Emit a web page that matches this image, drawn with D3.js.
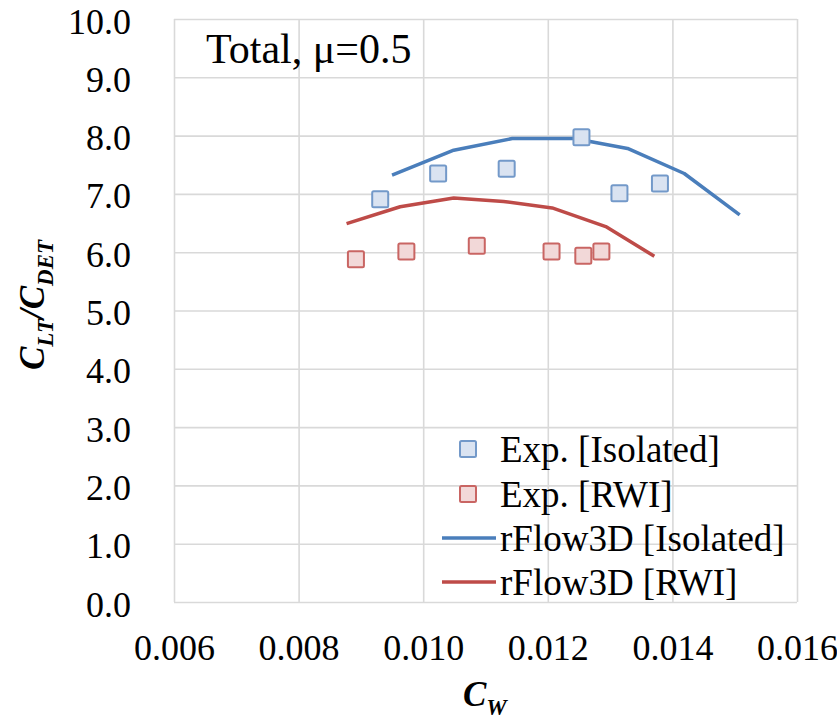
<!DOCTYPE html>
<html>
<head>
<meta charset="utf-8">
<script src="https://cdn.jsdelivr.net/npm/d3@7"></script>
<style>
  html, body { margin: 0; padding: 0; background: #ffffff; }
  svg { display: block; }
  text { font-family: "Liberation Serif", "Times New Roman", serif; fill: #000; }
</style>
</head>
<body>
<svg id="chart" width="837" height="722"></svg>
<script>
// ---- data ----
const expIsoCw  = [0.00931, 0.01024, 0.01134, 0.01254, 0.01315, 0.01380];
const expIsoVal = [6.91, 7.35, 7.43, 7.97, 7.01, 7.18];
const expRwiCw  = [0.00892, 0.00973, 0.01086, 0.01206, 0.01257, 0.01286];
const expRwiVal = [5.88, 6.01, 6.11, 6.01, 5.94, 6.01];
const cfdIsoCw  = [0.00950, 0.01049, 0.01143, 0.01242, 0.01328, 0.01419, 0.01508];
const cfdIsoVal = [7.32, 7.75, 7.95, 7.95, 7.78, 7.35, 6.64];
const cfdRwiCw  = [0.00877, 0.00963, 0.01049, 0.01129, 0.01207, 0.01293, 0.01371];
const cfdRwiVal = [6.49, 6.78, 6.93, 6.87, 6.76, 6.44, 5.93];
const xTicks = [0.006, 0.008, 0.010, 0.012, 0.014, 0.016];
const yTicks = [0, 1, 2, 3, 4, 5, 6, 7, 8, 9, 10];
const legendLabels = ["Exp. [Isolated]", "Exp. [RWI]", "rFlow3D [Isolated]", "rFlow3D [RWI]"];
const titleText = "Total, \u03bc=0.5";

// ---- layout ----
const FONT = "'Liberation Serif', 'Times New Roman', serif";
const svg = d3.select("#chart");
const L = 174, R = 797, T = 19, B = 602;
const x = d3.scaleLinear().domain([0.006, 0.016]).range([L, R]);
const y = d3.scaleLinear().domain([0, 10]).range([B, T]);

const gridColor = "#d9d9d9";
const blueLine = "#4a7ebb", redLine = "#be4b48";
const blueFill = "#dae3f1", blueStroke = "#7399c9";
const redFill = "#f2d8d8", redStroke = "#c96563";

// gridlines via axes
const gx = svg.append("g").attr("transform", `translate(0,${B})`)
  .call(d3.axisBottom(x).tickValues(xTicks).tickSize(-(B - T)).tickFormat(d3.format(".3f")))
  .attr("font-family", FONT).attr("font-size", 36);
gx.select(".domain").remove();
gx.selectAll("line").attr("stroke", gridColor).attr("stroke-width", 1.6);
gx.selectAll("text").attr("y", 58).attr("dy", 0).attr("fill", "#000");

const gy = svg.append("g").attr("transform", `translate(${L},0)`)
  .call(d3.axisLeft(y).tickValues(yTicks).tickSize(-(R - L)).tickFormat(d3.format(".1f")))
  .attr("font-family", FONT).attr("font-size", 36);
gy.select(".domain").remove();
gy.selectAll("line").attr("stroke", gridColor).attr("stroke-width", 1.6);
gy.selectAll("text").attr("x", -43).attr("dy", 14).attr("fill", "#000");

// lines
const line = d3.line().x(d => x(d[0])).y(d => y(d[1]));
svg.append("path").datum(d3.zip(cfdIsoCw, cfdIsoVal)).attr("d", line)
  .attr("fill", "none").attr("stroke", blueLine).attr("stroke-width", 3.5).attr("stroke-linejoin", "round");
svg.append("path").datum(d3.zip(cfdRwiCw, cfdRwiVal)).attr("d", line)
  .attr("fill", "none").attr("stroke", redLine).attr("stroke-width", 3.5).attr("stroke-linejoin", "round");

// markers
const ms = 16;
function squares(xs, ys, fill, stroke) {
  svg.append("g").selectAll("rect").data(d3.zip(xs, ys)).join("rect")
    .attr("x", d => x(d[0]) - ms / 2).attr("y", d => y(d[1]) - ms / 2)
    .attr("width", ms).attr("height", ms).attr("rx", 1.5)
    .attr("fill", fill).attr("stroke", stroke).attr("stroke-width", 2);
}
squares(expIsoCw, expIsoVal, blueFill, blueStroke);
squares(expRwiCw, expRwiVal, redFill, redStroke);

// title
svg.append("text").attr("x", 206).attr("y", 63).attr("font-size", 42).text(titleText);

// legend
const lg = svg.append("g");
const lgY = [449, 494, 538, 582];
const lgTextX = 500;
lg.append("rect").attr("x", 468 - 8).attr("y", lgY[0] - 8).attr("width", 16).attr("height", 16).attr("rx", 1.5)
  .attr("fill", blueFill).attr("stroke", blueStroke).attr("stroke-width", 2);
lg.append("rect").attr("x", 468 - 8).attr("y", lgY[1] - 8).attr("width", 16).attr("height", 16).attr("rx", 1.5)
  .attr("fill", redFill).attr("stroke", redStroke).attr("stroke-width", 2);
lg.append("line").attr("x1", 442).attr("x2", 496).attr("y1", lgY[2]).attr("y2", lgY[2])
  .attr("stroke", blueLine).attr("stroke-width", 3.5);
lg.append("line").attr("x1", 442).attr("x2", 496).attr("y1", lgY[3]).attr("y2", lgY[3])
  .attr("stroke", redLine).attr("stroke-width", 3.5);
legendLabels.forEach((t, i) => {
  lg.append("text").attr("x", lgTextX).attr("y", lgY[i] + 13).attr("font-size", 37).text(t);
});

// axis titles
const xt = svg.append("text").attr("x", 463).attr("y", 706)
  .attr("font-size", 35).attr("font-weight", "bold").attr("font-style", "italic");
xt.append("tspan").text("C");
xt.append("tspan").attr("font-size", 23).attr("dy", 9).text("W");

const yt = svg.append("text")
  .attr("transform", "translate(44,305) rotate(-90)")
  .attr("text-anchor", "middle")
  .attr("font-size", 35).attr("font-weight", "bold").attr("font-style", "italic");
yt.append("tspan").text("C");
yt.append("tspan").attr("font-size", 23).attr("dy", 9).text("LT");
yt.append("tspan").attr("dy", -9).text("/C");
yt.append("tspan").attr("font-size", 23).attr("dy", 9).text("DET");
</script>
</body>
</html>
